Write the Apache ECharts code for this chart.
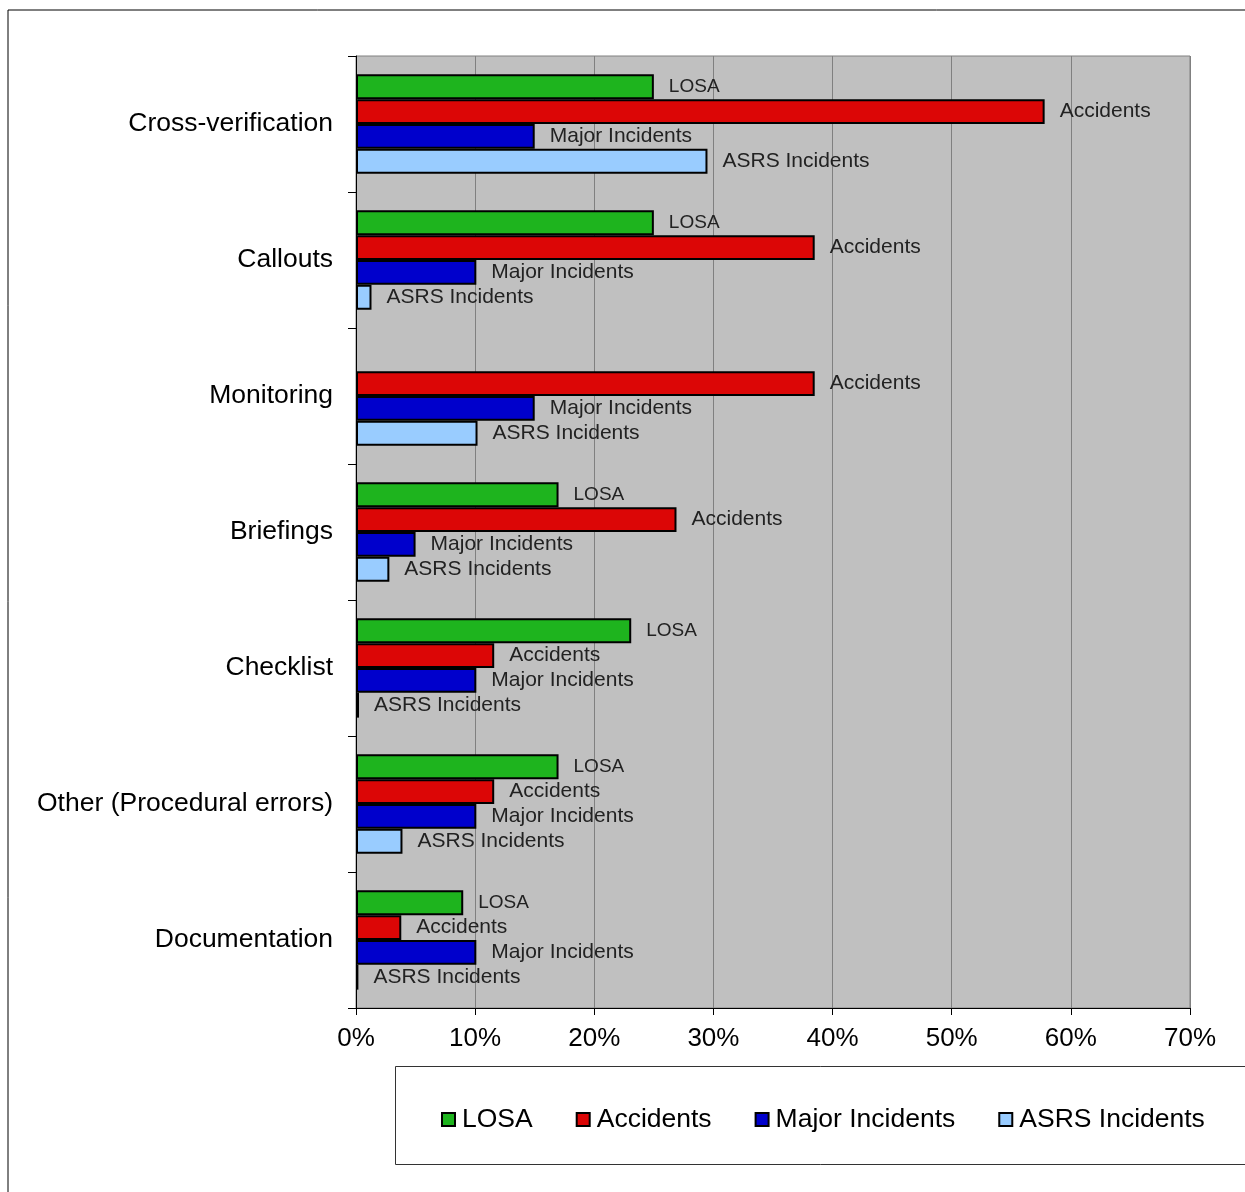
<!DOCTYPE html>
<html>
<head>
<meta charset="utf-8">
<script src="https://cdn.jsdelivr.net/npm/echarts@6/dist/echarts.min.js"></script>
<style>
  html, body { margin: 0; padding: 0; background: #fff; }
  #chart { width: 1245px; height: 1192px; }
</style>
</head>
<body>
<div id="chart"></div>
<script>
// categories top to bottom
var categories = ['Cross-verification', 'Callouts', 'Monitoring', 'Briefings', 'Checklist', 'Other (Procedural errors)', 'Documentation'];
var seriesNames = ['LOSA', 'Accidents', 'Major Incidents', 'ASRS Incidents'];
var losa = [25.0, 25.0, 0, 17.0, 23.1, 17.0, 9.0];
var accidents = [57.8, 38.5, 38.5, 26.9, 11.6, 11.6, 3.8];
var majorIncidents = [15.0, 10.1, 15.0, 5.0, 10.1, 10.1, 10.1];
var asrsIncidents = [29.5, 1.3, 10.2, 2.8, 0.25, 3.9, 0.2];
var xTicks = [0, 10, 20, 30, 40, 50, 60, 70];

var colors = ['#1eb41e', '#dc0606', '#0000cc', '#99ccff'];
var values = [losa, accidents, majorIncidents, asrsIncidents];
var font = 'Liberation Sans, Arial, sans-serif';

var chart = echarts.init(document.getElementById('chart'));

var series = seriesNames.map(function (name, i) {
	return {
		name: name,
		type: 'bar',
		// zero bars get no outline
		data: values[i].map(function (v) {
			return { value: v, itemStyle: { borderWidth: v > 0 ? 2 : 0 } };
		}),
		barGap: '0%',
		barCategoryGap: '27%',
		itemStyle: {
			color: colors[i],
			borderColor: '#000',
			borderWidth: 2
		},
		label: {
			show: true,
			position: 'right',
			distance: 15,
			color: '#222',
			fontFamily: font,
			fontSize: i == 0 ? 19 : 21,
			formatter: function (p) {
				return p.value > 0 ? p.seriesName : '';
			}
		}
	};
});

var option = {
	animation: false,
	backgroundColor: '#fff',
	graphic: [{
		type: 'rect',
		shape: { x: 8, y: 10, width: 1300, height: 1300 },
		style: { fill: 'none', stroke: '#000', lineWidth: 1 },
		z: -1
	}, {
		type: 'rect',
		shape: { x: 395.5, y: 1066.5, width: 900, height: 98 },
		style: { fill: '#fff', stroke: '#333', lineWidth: 1 },
		z: 0
	}],
	grid: {
		left: 356,
		right: 55,
		top: 56,
		bottom: 184,
		show: true,
		backgroundColor: '#c0c0c0',
		borderColor: '#808080',
		borderWidth: 1
	},
	legend: {
		data: seriesNames,
		left: 436,
		top: 1101,
		itemWidth: 13,
		itemHeight: 13,
		itemGap: 43,
		icon: 'rect',
		z: 5,
		textStyle: {
			fontFamily: font,
			fontSize: 26.5,
			color: '#000',
			padding: [0, 0, 0, 2]
		}
	},
	xAxis: {
		type: 'value',
		min: 0,
		max: 70,
		interval: 10,
		axisLine: { show: true, lineStyle: { color: '#000' } },
		axisTick: { show: true, length: 7, lineStyle: { color: '#000' } },
		splitLine: { show: true, lineStyle: { color: '#808080' } },
		axisLabel: {
			color: '#000',
			fontFamily: font,
			fontSize: 26,
			margin: 18,
			formatter: function (v) {
				return xTicks.indexOf(v) >= 0 ? v + '%' : '';
			}
		}
	},
	yAxis: {
		type: 'category',
		inverse: true,
		data: categories,
		axisLine: { show: true, lineStyle: { color: '#000' } },
		axisTick: { show: true, length: 8, lineStyle: { color: '#000' } },
		splitLine: { show: false },
		axisLabel: {
			color: '#000',
			fontFamily: font,
			fontSize: 26.5,
			margin: 23
		}
	},
	series: series
};

chart.setOption(option);
</script>
</body>
</html>
